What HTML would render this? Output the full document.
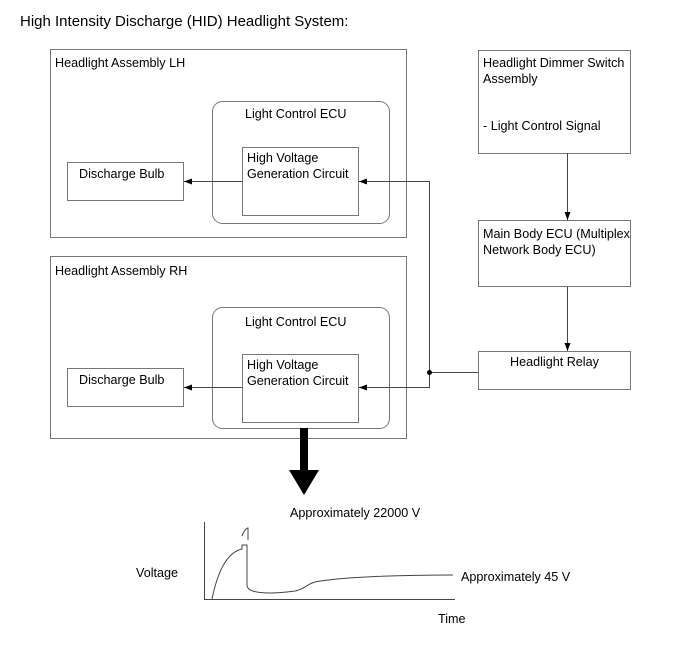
<!DOCTYPE html><html><head><style>body{margin:0;background:#fff}svg text{font-family:"Liberation Sans",sans-serif;font-size:12.6px;fill:#000}</style></head><body>
<svg width="690" height="659" xmlns="http://www.w3.org/2000/svg">
<defs><marker id="a" markerWidth="8" markerHeight="6" refX="8" refY="3" orient="auto" markerUnits="userSpaceOnUse"><path d="M0,0L8,3L0,6z" fill="#000"/></marker></defs>
<g fill="none" stroke="#777" stroke-width="1">
<rect x="50.5" y="49.5" width="356" height="188"/>
<rect x="212.5" y="101.5" width="177" height="122" rx="10"/>
<rect x="242.5" y="147.5" width="116" height="68"/>
<rect x="67.5" y="162.5" width="116" height="38"/>
<rect x="50.5" y="256.5" width="356" height="182"/>
<rect x="212.5" y="307.5" width="177" height="121" rx="10"/>
<rect x="242.5" y="354.5" width="116" height="68"/>
<rect x="67.5" y="368.5" width="116" height="38"/>
<rect x="478.5" y="50.5" width="152" height="103"/>
<rect x="478.5" y="220.5" width="152" height="66"/>
<rect x="478.5" y="351.5" width="152" height="38"/>
</g>
<g fill="none" stroke="#444" stroke-width="1">
<line x1="242" y1="181.5" x2="184" y2="181.5" marker-end="url(#a)"/>
<line x1="242" y1="387.5" x2="184" y2="387.5" marker-end="url(#a)"/>
<polyline points="429.5,372 429.5,181.5 359,181.5" marker-end="url(#a)"/>
<polyline points="478,372.5 429.5,372.5 429.5,387.5 359,387.5" marker-end="url(#a)"/>
<line x1="567.5" y1="153" x2="567.5" y2="220" marker-end="url(#a)"/>
<line x1="567.5" y1="287" x2="567.5" y2="351" marker-end="url(#a)"/>
<polyline points="204.5,522 204.5,599.5 455,599.5"/>
<path d="M212,599 C218,570 228,552 242,549 L242,545 L247,545 L247,585 C247,596 280,593 295,591 C305,589 307,584 315,582 C340,577 400,575 453,575"/>
<path d="M242,536 C244,530 247,528 248,528 L248,540" />
</g>
<circle cx="429.5" cy="372.5" r="2.5" fill="#000"/>
<path d="M300,428 h8 v42 h11 l-15,25 l-15,-25 h11z" fill="#000"/>
<text x="20" y="26" style="font-size:15px">High Intensity Discharge (HID) Headlight System:</text>
<text x="55" y="67">Headlight Assembly LH</text>
<text x="245" y="118">Light Control ECU</text>
<text x="247" y="162">High Voltage</text><text x="247" y="178">Generation Circuit</text>
<text x="79" y="178">Discharge Bulb</text>
<text x="55" y="275">Headlight Assembly RH</text>
<text x="245" y="326">Light Control ECU</text>
<text x="247" y="369">High Voltage</text><text x="247" y="385">Generation Circuit</text>
<text x="79" y="384">Discharge Bulb</text>
<text x="483" y="67">Headlight Dimmer Switch</text><text x="483" y="83">Assembly</text>
<text x="483" y="130">- Light Control Signal</text>
<text x="483" y="238">Main Body ECU (Multiplex</text><text x="483" y="254">Network Body ECU)</text>
<text x="510" y="366">Headlight Relay</text>
<text x="290" y="517">Approximately 22000 V</text>
<text x="136" y="577">Voltage</text>
<text x="461" y="581">Approximately 45 V</text>
<text x="438" y="623">Time</text>
</svg></body></html>
